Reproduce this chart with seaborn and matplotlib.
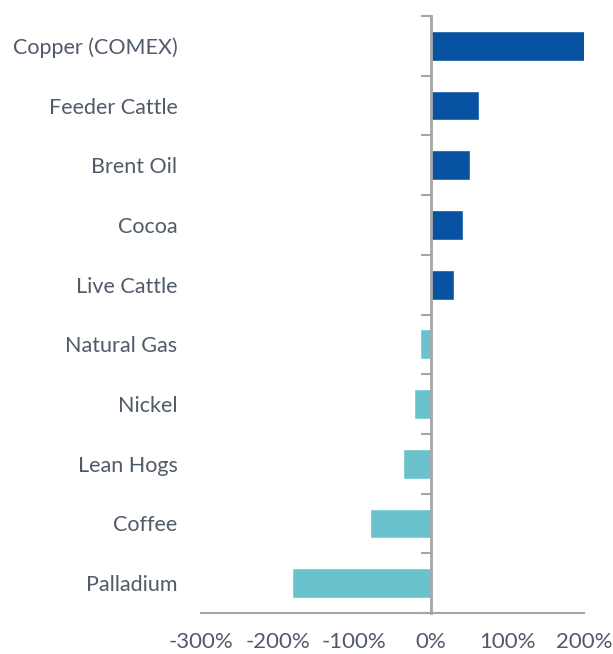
import matplotlib
matplotlib.use("Agg")
import matplotlib.pyplot as plt
import seaborn as sns
import pandas as pd

categories = ["Copper (COMEX)", "Feeder Cattle", "Brent Oil", "Cocoa", "Live Cattle",
              "Natural Gas", "Nickel", "Lean Hogs", "Coffee", "Palladium"]
values = [201, 63, 51, 42, 30, -14, -22, -37, -80, -181]
x_ticks = [-300, -200, -100, 0, 100, 200]
x_tick_labels = ["-300%", "-200%", "-100%", "0%", "100%", "200%"]

POS_COLOR = "#0753A1"
NEG_COLOR = "#6AC3CC"
AXIS_COLOR = "#A6A6A6"
TEXT_COLOR = "#505A69"

sns.set_style("white")
plt.rcParams["font.family"] = ["Lato", "DejaVu Sans"]

df = pd.DataFrame({"cat": categories, "val": values,
                   "sign": ["pos" if v >= 0 else "neg" for v in values]})

fig = plt.figure(figsize=(6.13, 6.54), dpi=100)
ax = fig.add_axes([0.328, 0.0627, 0.625, 0.9128])

sns.barplot(data=df, x="val", y="cat", hue="sign", order=categories,
            palette={"pos": POS_COLOR, "neg": NEG_COLOR}, dodge=False,
            width=0.5, orient="h", legend=False, ax=ax, saturation=1)

ax.set_xlim(-300, 200)
ax.set_ylim(len(categories) - 0.5, -0.5)
ax.set_xticks(x_ticks)
ax.set_xticklabels(x_tick_labels)
ax.set_xlabel("")
ax.set_ylabel("")

for s in ["top", "right", "left"]:
    ax.spines[s].set_visible(False)
ax.spines["bottom"].set_color(AXIS_COLOR)
ax.spines["bottom"].set_linewidth(1.5)

ax.tick_params(axis="x", direction="out", length=6, width=1.5, color=AXIS_COLOR,
               labelsize=16, labelcolor=TEXT_COLOR, pad=8)
ax.tick_params(axis="y", length=0, labelsize=15.5, labelcolor=TEXT_COLOR, pad=17)

# zero axis with category boundary ticks
ax2 = ax.twinx()
ax2.set_ylim(len(categories) - 0.5, -0.5)
for s in ["top", "right", "bottom"]:
    ax2.spines[s].set_visible(False)
ax2.spines["left"].set_visible(True)
ax2.spines["left"].set_position(("data", 0))
ax2.spines["left"].set_color(AXIS_COLOR)
ax2.spines["left"].set_linewidth(2)
ax2.yaxis.set_ticks_position("left")
ax2.set_yticks([i - 0.5 for i in range(len(categories) + 1)])
ax2.set_yticklabels([])
ax2.tick_params(axis="y", direction="out", length=7, width=1.5, color=AXIS_COLOR)
ax2.tick_params(axis="y", which="minor", length=0)

fig.savefig("out.png", dpi=100, facecolor="white")
